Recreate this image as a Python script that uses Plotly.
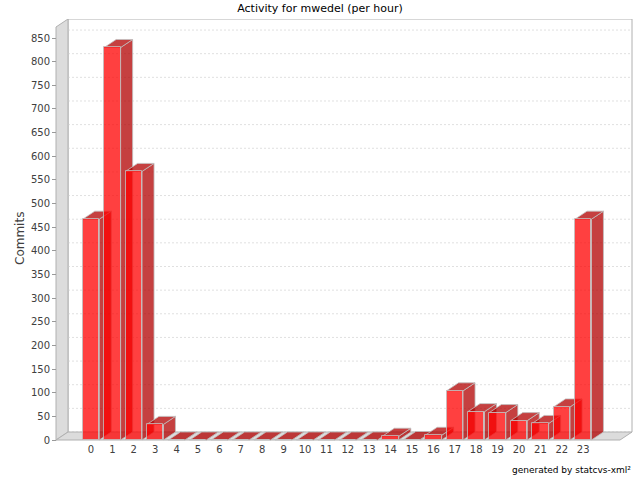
import plotly.graph_objects as go

# ---------------- data ----------------
hours = list(range(24))
hour_labels = [str(h) for h in hours]
commits = [467, 830, 568, 33, 0, 0, 0, 0, 0, 0, 0, 0, 0, 0, 8, 1, 10, 104, 60, 58, 41, 35, 70, 467]
y_ticks = list(range(0, 851, 50))
y_tick_labels = [str(t) for t in y_ticks]

TITLE = "Activity for mwedel (per hour)"
Y_TITLE = "Commits"
FOOTER = "generated by statcvs-xml²"

# ---------------- layout geometry ----------------
W, H = 640, 480
ML, MR, MT, MB = 54, 6, 19, 38
PW, PH = W - ML - MR, H - MT - MB
PX_CAT = 21.4          # pixels per category
PX_VAL = 0.4729        # pixels per commit
CAT0_PX = 91           # pixel x of category 0
ZERO_PX = 440          # pixel y of value 0 (front plane)
OFF_X, OFF_Y = 12, 8   # 3D offset in pixels

x_lo = -(CAT0_PX - ML) / PX_CAT
x_hi = x_lo + PW / PX_CAT
y_lo = -((H - MB) - ZERO_PX) / PX_VAL
y_hi = y_lo + PH / PX_VAL

dx = OFF_X / PX_CAT
dy = OFF_Y / PX_VAL
front_left = (56 - CAT0_PX) / PX_CAT
front_right = (620 - CAT0_PX) / PX_CAT
front_top = (ZERO_PX - 27) / PX_VAL
BAR_W = 0.77

FRONT = "rgba(255,0,0,0.75)"
DARK = "rgba(178,0,0,0.75)"
OUTLINE = "rgba(192,192,192,0.8)"
WALL = "#DCDCDC"
WALL_LINE = "#B0B0B0"
GRID = "rgb(224,224,224)"
FONT = "DejaVu Sans"


def path(pts):
    return "M " + " L ".join(f"{x},{y}" for x, y in pts) + " Z"


shapes = []
# back wall outline
shapes.append(dict(type="path", xref="x", yref="y", layer="below",
                   path="M {0},{1} L {0},{2} L {3},{2} L {3},{1}".format(
                       front_left + dx, dy, front_top + dy, front_right + dx),
                   line=dict(color=WALL_LINE, width=1), fillcolor="white"))
# gridlines on back wall
for t in y_ticks:
    shapes.append(dict(type="line", xref="x", yref="y", layer="below",
                       x0=front_left + dx, x1=front_right + dx, y0=t + dy, y1=t + dy,
                       line=dict(color=GRID, width=1, dash="2px,2px")))
# left wall
shapes.append(dict(type="path", xref="x", yref="y", layer="below",
                   path=path([(front_left, 0), (front_left, front_top),
                              (front_left + dx, front_top + dy), (front_left + dx, dy)]),
                   fillcolor=WALL, line=dict(color=WALL_LINE, width=1)))
# floor
shapes.append(dict(type="path", xref="x", yref="y", layer="below",
                   path=path([(front_left, 0), (front_right, 0),
                              (front_right + dx, dy), (front_left + dx, dy)]),
                   fillcolor=WALL, line=dict(color=WALL_LINE, width=1)))
# 3D side and top faces of the bars
for h, v in zip(hours, commits):
    x0, x1 = h - BAR_W / 2, h + BAR_W / 2
    shapes.append(dict(type="path", xref="x", yref="y", layer="below",
                       path=path([(x1, 0), (x1, v), (x1 + dx, v + dy), (x1 + dx, dy)]),
                       fillcolor=DARK, line=dict(color=OUTLINE, width=1)))
    shapes.append(dict(type="path", xref="x", yref="y", layer="below",
                       path=path([(x0, v), (x1, v), (x1 + dx, v + dy), (x0 + dx, v + dy)]),
                       fillcolor=DARK, line=dict(color=OUTLINE, width=1)))

fig = go.Figure()
fig.add_trace(go.Bar(x=hours, y=commits, width=BAR_W,
                     marker=dict(color=FRONT, line=dict(color=OUTLINE, width=1)),
                     name="Commits", showlegend=False))

fig.update_layout(
    width=W, height=H,
    margin=dict(l=ML, r=MR, t=MT, b=MB, autoexpand=False),
    paper_bgcolor="white", plot_bgcolor="rgba(0,0,0,0)",
    font=dict(family=FONT, size=10, color="#404040"),
    title=dict(text=TITLE, x=0.5, xanchor="center", y=1 - 8.5 / H, yanchor="middle",
               yref="container", font=dict(family=FONT, size=11, color="#000000")),
    shapes=shapes,
    bargap=0,
    xaxis=dict(range=[x_lo, x_hi], tickvals=hours, ticktext=hour_labels,
               showgrid=False, zeroline=False, showline=False, ticks="",
               tickfont=dict(family=FONT, size=10, color="#404040")),
    yaxis=dict(range=[y_lo, y_hi], tickvals=y_ticks, ticktext=y_tick_labels,
               showgrid=False, zeroline=False, showline=False,
               ticks="outside", ticklen=4, tickcolor="#999999",
               anchor="free", position=(56 - ML) / PW,
               tickfont=dict(family=FONT, size=10, color="#404040")),
    annotations=[
        dict(text=Y_TITLE, textangle=-90, xref="paper", yref="paper",
             x=(20 - ML) / PW, y=((H - MB) - 239) / PH, xanchor="center", yanchor="middle",
             showarrow=False, font=dict(family=FONT, size=12, color="#404040")),
        dict(text=FOOTER, xref="paper", yref="paper",
             x=(633 - ML) / PW, y=((H - MB) - 470) / PH, xanchor="right", yanchor="middle",
             showarrow=False, font=dict(family=FONT, size=9, color="#000000")),
    ],
)

fig.write_html("out.html", config={"displayModeBar": False},
               post_script="document.body.style.margin='0';")
